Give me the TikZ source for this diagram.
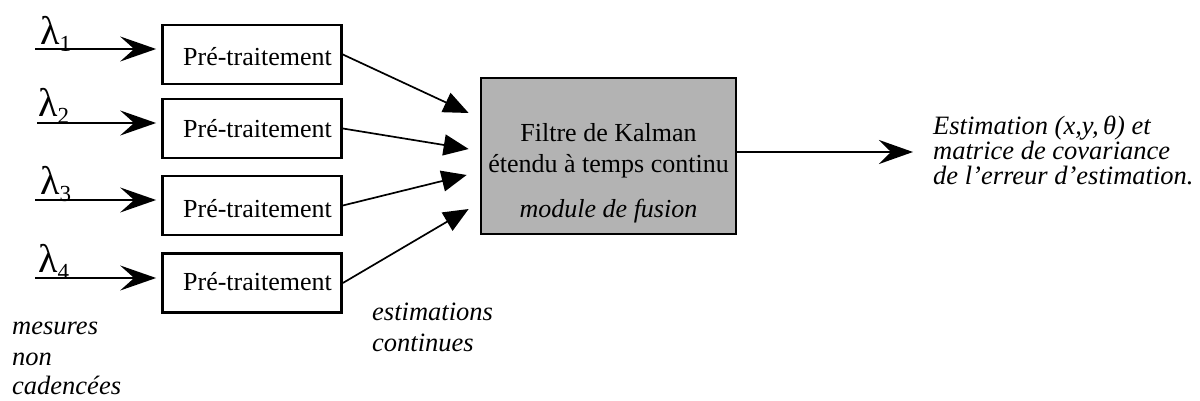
\documentclass[tikz,border=0pt]{standalone}
\usepackage{fontspec}
\setmainfont{Liberation Serif}
\usetikzlibrary{arrows.meta,calc}
\definecolor{fusiongray}{RGB}{179,179,179}
\begin{document}
\begin{tikzpicture}[x=1pt,y=-1pt,
  prebox/.style={draw,line width=2.7pt,minimum width=179pt,minimum height=59pt,
    inner sep=0pt,text depth=0pt,font=\fontsize{26}{28}\selectfont},
  fusionbox/.style={draw,line width=2.7pt,fill=fusiongray,
    minimum width=255pt,minimum height=156pt,inner sep=0pt},
  inarrow/.style={line width=2.2pt,shorten >=5pt,
    -{Stealth[length=36pt,width=25pt,inset=14pt]}},
  convarrow/.style={line width=1.7pt,-{Triangle[length=25pt,width=21pt]}},
  outarrow/.style={line width=2.2pt,-{Stealth[length=34pt,width=24pt,inset=12pt]}},
  body/.style={font=\fontsize{26}{28}\selectfont,inner sep=0pt,anchor=base},
  note/.style={font=\fontsize{26.5}{28}\selectfont\itshape,inner sep=0pt,anchor=base west},
  lam/.style={inner sep=0pt,anchor=base west}
]
\useasboundingbox (0,0) rectangle (1200,401);

% pre-processing blocks
\node[prebox,text height=23pt] (p1) at (252,54.5) {\hspace*{11pt}Pré-traitement};
\node[prebox,text height=18pt] (p2) at (252,128.5) {\hspace*{11pt}Pré-traitement};
\node[prebox,text height=23pt] (p3) at (252,205.5) {\hspace*{11pt}Pré-traitement};
\node[prebox,text height=14pt] (p4) at (252,283) {\hspace*{11pt}Pré-traitement};

% raw measurements
\newcommand{\lamsub}[1]{{\fontsize{40}{40}\selectfont λ}\raisebox{-7pt}{\fontsize{23}{23}\selectfont #1}}
\coordinate (s1) at (35,49);
\coordinate (s2) at (37,123);
\coordinate (s3) at (35,200);
\coordinate (s4) at (35,278);
\node[lam] (l1) at (40,45) {\lamsub{1}};
\node[lam] (l2) at (38,117) {\lamsub{2}};
\node[lam] (l3) at (40,194) {\lamsub{3}};
\node[lam] (l4) at (38,272) {\lamsub{4}};
\draw[inarrow] (s1) -- (p1.west |- s1);
\draw[inarrow] (s2) -- (p2.west |- s2);
\draw[inarrow] (s3) -- (p3.west |- s3);
\draw[inarrow] (s4) -- (p4.west |- s4);

% fusion module
\node[fusionbox] (k) at (608.5,156) {};
\node[body] (kt1) at (608.5,142) {Filtre de Kalman};
\node[body] (kt2) at (608.5,172) {étendu à temps continu};
\node[body] (kt3) at (608.5,217) {\itshape module de fusion};

% continuous estimates into the filter
\coordinate (k1) at ($(k.west)+(-11,-43)$);
\coordinate (k2) at ($(k.west)+(-11,-7)$);
\coordinate (k3) at ($(k.west)+(-13,19)$);
\coordinate (k4) at ($(k.west)+(-11,53)$);
\draw[convarrow] (p1.east) -- (k1);
\draw[convarrow] (p2.east) -- (k2);
\draw[convarrow] (p3.east) -- (k3);
\draw[convarrow] (p4.east) -- (k4);

% output
\coordinate (o) at (913,152);
\draw[outarrow] (k.east |- o) -- (o);
\node[note] (e1) at (933,135) {Estimation (x,y,\,θ) et};
\node[note] (e2) at (933,160) {matrice de covariance};
\node[note] (e3) at (933,185) {de l’erreur d’estimation.};

% captions
\node[note] (m1) at (12,334) {mesures};
\node[note] (m2) at (12,365) {non};
\node[note] (m3) at (12,394) {cadencées};
\node[note] (c1) at (372,320) {estimations};
\node[note] (c2) at (372,351) {continues};
\end{tikzpicture}
\end{document}
